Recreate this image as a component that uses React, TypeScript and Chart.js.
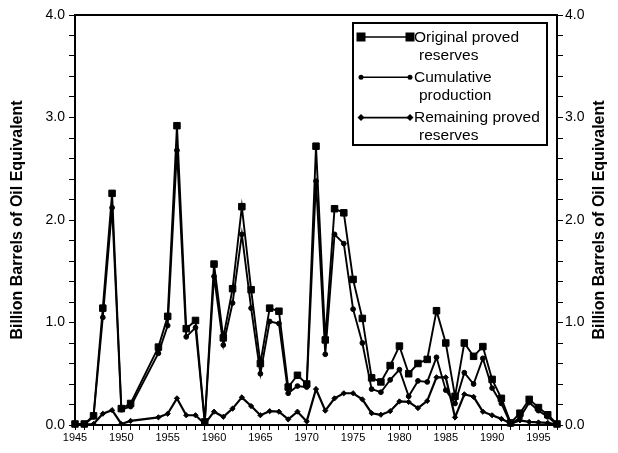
import React, { useEffect, useRef } from "react";
import { Chart, registerables } from "chart.js";

Chart.register(...registerables);

const FONT = "Arial, 'Liberation Sans', Helvetica, sans-serif";

const years = [1945, 1946, 1947, 1948, 1949, 1950, 1951, 1954, 1955, 1956, 1957, 1958, 1959, 1960, 1961, 1962, 1963, 1964, 1965, 1966, 1967, 1968, 1969, 1970, 1971, 1972, 1973, 1974, 1975, 1976, 1977, 1978, 1979, 1980, 1981, 1982, 1983, 1984, 1985, 1986, 1987, 1988, 1989, 1990, 1991, 1992, 1993, 1994, 1995, 1996, 1997];

const originalReserves = [0.01, 0.01, 0.09, 1.14, 2.26, 0.16, 0.21, 0.76, 1.06, 2.92, 0.94, 1.02, 0.03, 1.57, 0.85, 1.33, 2.13, 1.32, 0.6, 1.14, 1.11, 0.37, 0.485, 0.4, 2.72, 0.83, 2.11, 2.07, 1.42, 1.04, 0.46, 0.42, 0.58, 0.77, 0.5, 0.6, 0.64, 1.115, 0.8, 0.28, 0.8, 0.67, 0.765, 0.445, 0.26, 0.02, 0.115, 0.25, 0.17, 0.1, 0.01];

const cumulativeProduction = [0.005, 0.005, 0.08, 1.05, 2.12, 0.15, 0.18, 0.7, 0.97, 2.68, 0.86, 0.95, 0.02, 1.45, 0.78, 1.19, 1.86, 1.14, 0.5, 1.01, 0.99, 0.31, 0.38, 0.37, 2.38, 0.69, 1.86, 1.77, 1.13, 0.8, 0.35, 0.32, 0.44, 0.54, 0.28, 0.43, 0.42, 0.66, 0.34, 0.21, 0.51, 0.4, 0.65, 0.36, 0.21, 0.01, 0.07, 0.22, 0.14, 0.08, 0.005];

const remainingReserves = [0.0, 0.005, 0.01, 0.11, 0.145, 0.01, 0.04, 0.075, 0.11, 0.26, 0.095, 0.095, 0.01, 0.13, 0.08, 0.16, 0.27, 0.185, 0.095, 0.135, 0.13, 0.055, 0.13, 0.035, 0.35, 0.14, 0.26, 0.31, 0.31, 0.25, 0.115, 0.1, 0.135, 0.23, 0.225, 0.165, 0.235, 0.465, 0.465, 0.075, 0.3, 0.275, 0.13, 0.095, 0.06, 0.015, 0.045, 0.03, 0.025, 0.02, 0.005];

const seriesLabels = [
  ["Original proved", "reserves"],
  ["Cumulative", "production"],
  ["Remaining proved", "reserves"],
];
const seriesStyles = ["rect", "circle", "rectRot"];

const axisTitle = "Billion Barrels of Oil Equivalent";
const xMin = 1945;
const xMax = 1997;
const yMin = 0;
const yMax = 4;

function drawMarker(ctx: CanvasRenderingContext2D, style: string, x: number, y: number, size: number) {
  ctx.beginPath();
  if (style === "rect") {
    ctx.rect(x - size / 2, y - size / 2, size, size);
  } else if (style === "circle") {
    ctx.arc(x, y, size / 2, 0, Math.PI * 2);
  } else {
    const r = size / 2;
    ctx.moveTo(x - r, y);
    ctx.lineTo(x, y - r);
    ctx.lineTo(x + r, y);
    ctx.lineTo(x, y + r);
    ctx.closePath();
  }
  ctx.fill();
}

const decorPlugin = {
  id: "decor",
  afterDraw(chart: any) {
    const ctx: CanvasRenderingContext2D = chart.ctx;
    const { left, right, top, bottom } = chart.chartArea;
    ctx.save();
    // top border
    ctx.strokeStyle = "#000";
    ctx.lineWidth = 2;
    ctx.beginPath();
    ctx.moveTo(left - 1, top);
    ctx.lineTo(right + 1, top);
    ctx.stroke();

    // axis titles (both read bottom to top)
    ctx.fillStyle = "#000";
    ctx.font = `bold 16px ${FONT}`;
    ctx.textAlign = "center";
    ctx.textBaseline = "middle";
    const cy = (top + bottom) / 2;
    [18, 600].forEach((tx) => {
      ctx.save();
      ctx.translate(tx, cy);
      ctx.rotate(-Math.PI / 2);
      ctx.fillText(axisTitle, 0, 0);
      ctx.restore();
    });

    // legend
    const bx = 353, by = 23, bw = 194, bh = 122;
    ctx.fillStyle = "#fff";
    ctx.fillRect(bx, by, bw, bh);
    ctx.strokeStyle = "#000";
    ctx.lineWidth = 2;
    ctx.strokeRect(bx, by, bw, bh);
    ctx.font = `15.5px ${FONT}`;
    ctx.textAlign = "left";
    ctx.textBaseline = "middle";
    const sizes = [9, 5, 7];
    seriesLabels.forEach((lines, i) => {
      const ly = 37 + i * 40.3;
      ctx.strokeStyle = "#000";
      ctx.lineWidth = 1.6;
      ctx.beginPath();
      ctx.moveTo(361, ly);
      ctx.lineTo(410, ly);
      ctx.stroke();
      ctx.fillStyle = "#000";
      drawMarker(ctx, seriesStyles[i], 361, ly, sizes[i]);
      drawMarker(ctx, seriesStyles[i], 410, ly, sizes[i]);
      ctx.fillText(lines[0], 414, ly + 0.5);
      ctx.fillText(lines[1], 419, ly + 18.5);
    });
    ctx.restore();
  },
};

export default function App() {
  const ref = useRef<HTMLCanvasElement>(null);
  useEffect(() => {
    const canvas = ref.current;
    if (!canvas) return;
    const pts = (vals: number[]) => years.map((x, i) => ({ x, y: vals[i] }));
    const datasetBase = {
      borderColor: "#000",
      backgroundColor: "#000",
      pointBackgroundColor: "#000",
      pointBorderColor: "#000",
      pointBorderWidth: 1,
      tension: 0,
      clip: false as any,
    };
    const yLabel = (v: any) => (Math.abs(v - Math.round(v)) < 1e-6 ? Number(v).toFixed(1) : "");
    const yGrid = { drawOnChartArea: false, drawTicks: true, tickLength: 6, color: "#000", lineWidth: 1 };
    const chart = new Chart(canvas, {
      type: "line",
      data: {
        datasets: [
          { ...datasetBase, label: seriesLabels[0].join(" "), data: pts(originalReserves), pointStyle: "rect", pointRadius: 4.6, borderWidth: 1.9 },
          { ...datasetBase, label: seriesLabels[1].join(" "), data: pts(cumulativeProduction), pointStyle: "circle", pointRadius: 2.4, borderWidth: 1.9 },
          { ...datasetBase, label: seriesLabels[2].join(" "), data: pts(remainingReserves), pointStyle: "rectRot", pointRadius: 2.6, borderWidth: 2.2 },
        ],
      },
      options: {
        responsive: false,
        animation: false,
        layout: { padding: { top: 15, left: 0, right: 0, bottom: 0 } },
        plugins: { legend: { display: false }, tooltip: { enabled: false } },
        scales: {
          x: {
            type: "linear",
            position: "bottom",
            min: xMin,
            max: xMax,
            ticks: {
              stepSize: 1,
              autoSkip: false,
              maxRotation: 0,
              color: "#000",
              font: { family: FONT, size: 11 },
              padding: 1,
              callback: (v: any) => (v % 5 === 0 && v <= 1995 ? String(v) : ""),
            },
            grid: { drawOnChartArea: false, drawTicks: true, tickLength: 5, color: "#000", lineWidth: 1 },
            border: { display: true, color: "#000", width: 2 },
            afterFit: (s: any) => { s.height = 28; },
          },
          y: {
            type: "linear",
            position: "left",
            min: yMin,
            max: yMax,
            ticks: { stepSize: 0.2, autoSkip: false, color: "#000", font: { family: FONT, size: 14 }, padding: 4, callback: yLabel },
            grid: yGrid,
            border: { display: true, color: "#000", width: 2 },
            afterFit: (s: any) => { s.width = 75; },
          },
          y2: {
            type: "linear",
            position: "right",
            min: yMin,
            max: yMax,
            ticks: { stepSize: 0.2, autoSkip: false, color: "#000", font: { family: FONT, size: 14 }, padding: 2, callback: yLabel },
            grid: yGrid,
            border: { display: true, color: "#000", width: 2 },
            afterFit: (s: any) => { s.width = 61; },
          },
        },
      } as any,
      plugins: [decorPlugin],
    });
    return () => chart.destroy();
  }, []);
  return (
    <div style={{ position: "absolute", left: 0, top: 0, width: 618, height: 453, background: "#fff" }}>
      <canvas ref={ref} width={618} height={453} style={{ display: "block" }} />
    </div>
  );
}
